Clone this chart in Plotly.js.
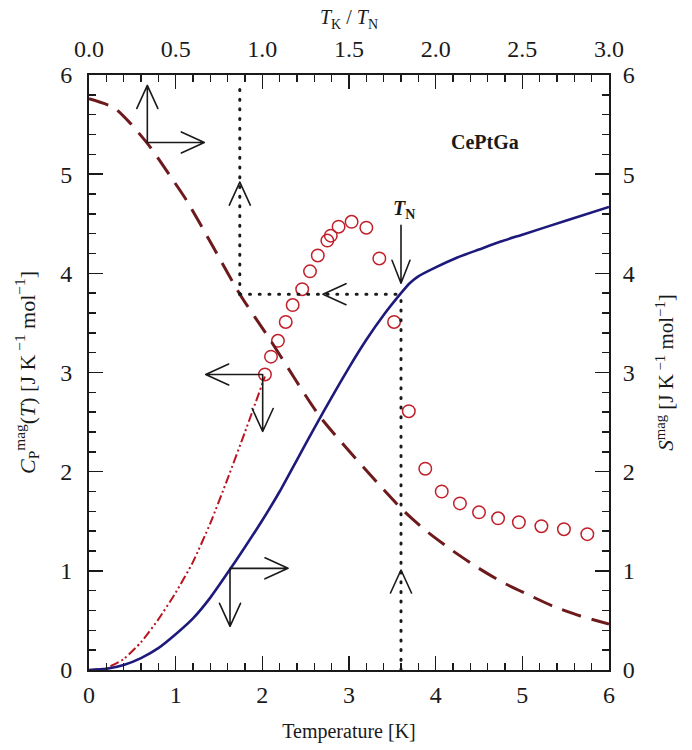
<!DOCTYPE html>
<html><head><meta charset="utf-8">
<script src="https://cdn.plot.ly/plotly-3.0.1.min.js"></script>
<style>
html,body{margin:0;padding:0;background:#fff;}
#chart{width:692px;height:750px;}
g.shapelayer path{stroke-linecap:round;stroke-linejoin:round;}
</style>
</head><body><div id="chart"></div>
<script>
// Measured magnetic specific heat Cp^mag (open circles) — bottom / left axes
const cpT   = [2.03, 2.10, 2.18, 2.27, 2.35, 2.46, 2.55, 2.64, 2.75, 2.79, 2.88, 3.03, 3.20, 3.35, 3.52, 3.69, 3.88, 4.07, 4.28, 4.50, 4.72, 4.96, 5.22, 5.48, 5.75];
const cpVal = [2.98, 3.16, 3.32, 3.51, 3.68, 3.84, 4.02, 4.18, 4.33, 4.38, 4.47, 4.52, 4.46, 4.15, 3.51, 2.61, 2.03, 1.80, 1.68, 1.59, 1.53, 1.49, 1.45, 1.42, 1.37];
// Low-temperature extrapolation of Cp^mag (dash-dot) — bottom / left axes
const cpExtT   = [0, 0.2, 0.4, 0.6, 0.8, 1.0, 1.2, 1.4, 1.6, 1.8, 2.03];
const cpExtVal = [0, 0.02, 0.11, 0.28, 0.51, 0.78, 1.09, 1.48, 1.93, 2.40, 2.96];
// Magnetic entropy S^mag vs T (solid) — bottom / right axes
const sT   = [0, 0.2, 0.4, 0.6, 0.8, 1.0, 1.2, 1.4, 1.6, 1.8, 2.0, 2.2, 2.4, 2.6, 2.8, 3.0, 3.2, 3.4, 3.6, 3.7, 3.8, 4.0, 4.25, 4.5, 4.75, 5.0, 5.5, 6.0];
const sVal = [0, 0.012, 0.05, 0.12, 0.22, 0.36, 0.52, 0.73, 0.98, 1.24, 1.51, 1.80, 2.12, 2.44, 2.75, 3.05, 3.33, 3.58, 3.80, 3.90, 3.97, 4.06, 4.16, 4.24, 4.32, 4.39, 4.53, 4.67];
// Kondo entropy vs T_K/T_N (dashed) — top / right axes
const kRatio = [0, 0.145, 0.235, 0.35, 0.465, 0.565, 0.715, 0.87, 1.045, 1.335, 1.795, 1.94, 2.10, 2.245, 2.39, 2.545, 2.675, 2.835, 3.0];
const kS     = [5.76, 5.67, 5.52, 5.28, 4.99, 4.73, 4.27, 3.79, 3.33, 2.55, 1.64, 1.41, 1.20, 1.03, 0.88, 0.75, 0.645, 0.545, 0.464];
// Guide values
const tKondo = 1.74;   // K, where S(T_K/T_N) meets S(T_N)
const tN = 3.60;       // K
const sAtTN = 3.79;

const FONT = '"Times New Roman", Times, serif';
const INK = '#1a1a1a';

const traces = [
  {x: cpExtT, y: cpExtVal, xaxis: 'x', yaxis: 'y', mode: 'lines',
   line: {color: '#b8141e', width: 2, shape: 'spline', smoothing: 0.5, dash: '9px,3px,2px,3px,2px,3px'}, hoverinfo: 'skip'},
  {x: kRatio, y: kS, xaxis: 'x2', yaxis: 'y2', mode: 'lines',
   line: {color: '#6e1a1c', width: 3, shape: 'spline', smoothing: 0.6, dash: '20px,11px'}},
  {x: sT, y: sVal, xaxis: 'x', yaxis: 'y2', mode: 'lines',
   line: {color: '#1e1a7c', width: 2.6, shape: 'spline', smoothing: 0.5}},
  {x: cpT, y: cpVal, xaxis: 'x', yaxis: 'y', mode: 'markers',
   marker: {symbol: 'circle-open', size: 12.5, color: '#c0202a', line: {width: 1.5, color: '#c0202a'}}}
];

function axisBase(extra) {
  return Object.assign({
    showline: true, linewidth: 2, linecolor: INK, mirror: false,
    showgrid: false, zeroline: false,
    ticks: 'inside', ticklen: 14, tickwidth: 1.5, tickcolor: INK,
    tickfont: {family: FONT, size: 24, color: INK},
    fixedrange: true
  }, extra);
}

const dotted = {color: INK, width: 3, dash: '1px,8.7px'};
const arrowLine = {color: INK, width: 1.6};

function arrowShape(ax, ay, path) {
  return {type: 'path', xref: 'x', yref: 'y', xsizemode: 'pixel', ysizemode: 'pixel',
          xanchor: ax, yanchor: ay, path: path, line: arrowLine};
}

const shapes = [
  {type: 'line', xref: 'x', yref: 'y', x0: tKondo, x1: tKondo, y0: sAtTN, y1: 5.93, line: dotted},
  {type: 'line', xref: 'x', yref: 'y', x0: tKondo, x1: tN, y0: sAtTN, y1: sAtTN, line: dotted},
  {type: 'line', xref: 'x', yref: 'y', x0: tN, x1: tN, y0: 0, y1: sAtTN, line: dotted},
  arrowShape(0.673, 5.32, 'M0,0L0,57M-10.5,34L0,57L10.5,34M0,0L57,0M34,10.5L57,0L34,-10.5'),
  arrowShape(tKondo, 4.92, 'M-10.5,-23L0,0L10.5,-23'),
  arrowShape(2.70, sAtTN, 'M23,10.5L0,0L23,-10.5'),
  arrowShape(tN, 3.90, 'M0,0L0,58M-9,23L0,0L9,23'),
  arrowShape(2.004, 2.98, 'M0,0L-57,0M-34,10.5L-57,0L-34,-10.5M0,0L0,-57M-10.5,-34L0,-57L10.5,-34'),
  arrowShape(1.627, 1.025, 'M0,0L58,0M35,10.5L58,0L35,-10.5M0,0L0,-58M-10.5,-35L0,-58L10.5,-35'),
  arrowShape(tN, 1.008, 'M-10.5,-23L0,0L10.5,-23')
];

const minorTicks = {ticks: 'inside', ticklen: 7, tickwidth: 1.5, tickcolor: INK};

const layout = {
  width: 692, height: 750,
  margin: {l: 89, r: 83, t: 75, b: 80, pad: 0},
  paper_bgcolor: '#fff', plot_bgcolor: '#fff',
  showlegend: false,
  font: {family: FONT, size: 22, color: INK},
  xaxis: axisBase({
    range: [0, 6], tickmode: 'linear', tick0: 0, dtick: 1, ticklabelstandoff: 2,
    minor: Object.assign({dtick: 0.2}, minorTicks),
    title: {text: 'Temperature [K]', font: {family: FONT, size: 20, color: INK}, standoff: 17}
  }),
  xaxis2: axisBase({
    overlaying: 'x', side: 'top', anchor: 'y',
    range: [0, 3], tickmode: 'linear', tick0: 0, dtick: 0.5, tickformat: '.1f', ticklabelstandoff: 6,
    minor: Object.assign({dtick: 0.1}, minorTicks),
    title: {text: '<i>T</i><sub>K</sub> / <i>T</i><sub>N</sub>', font: {family: FONT, size: 20, color: INK}, standoff: 6}
  }),
  yaxis: axisBase({
    range: [0, 6], tickmode: 'linear', tick0: 0, dtick: 1, ticklabelstandoff: 10,
    minor: Object.assign({dtick: 0.2}, minorTicks),
    title: {text: '<i>C</i><sub>P</sub><sup>mag</sup>(<i>T</i>) [J K<sup> −1</sup> mol<sup>−1</sup>]',
            font: {family: FONT, size: 22, color: INK}, standoff: 19}
  }),
  yaxis2: axisBase({
    overlaying: 'y', side: 'right', anchor: 'x',
    range: [0, 6], tickmode: 'linear', tick0: 0, dtick: 1, ticklabelstandoff: 7,
    minor: Object.assign({dtick: 0.2}, minorTicks),
    title: {text: '<i>S</i><sup>mag</sup> [J K<sup> −1</sup> mol<sup>−1</sup>]',
            font: {family: FONT, size: 21, color: INK}, standoff: 25}
  }),
  shapes: shapes,
  annotations: [
    {xref: 'x', yref: 'y', x: 4.57, y: 5.32, text: '<b>CePtGa</b>', showarrow: false,
     font: {family: FONT, size: 20, color: INK}},
    {xref: 'x', yref: 'y', x: 3.64, y: 4.64, text: '<b><i>T</i></b><sub><b>N</b></sub>', showarrow: false,
     font: {family: FONT, size: 20, color: INK}}
  ]
};

Plotly.newPlot('chart', traces, layout, {staticPlot: true, displayModeBar: false});
</script>
</body></html>
